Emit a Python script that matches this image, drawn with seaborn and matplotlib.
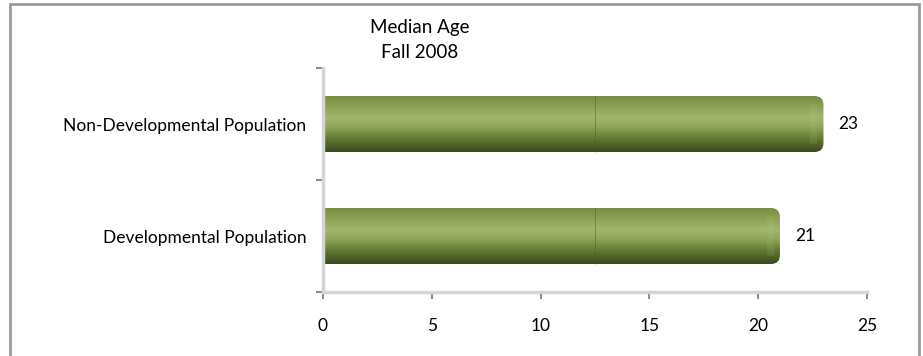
import numpy as np
import pandas as pd
import matplotlib
matplotlib.use("Agg")
import matplotlib.pyplot as plt
from matplotlib.patches import FancyBboxPatch, Rectangle
from matplotlib.colors import LinearSegmentedColormap
import seaborn as sns

# Data
groups = ["Non-Developmental Population", "Developmental Population"]
median_age = [23, 21]
x_ticks = [0, 5, 10, 15, 20, 25]
title_lines = ["Median Age", "Fall 2008"]

df = pd.DataFrame({"group": groups, "age": median_age})

sns.set_theme(style="white")
plt.rcParams["font.family"] = ["Lato", "DejaVu Sans"]

W, H = 923, 356
fig = plt.figure(figsize=(W / 100, H / 100), dpi=100)
ax = fig.add_axes([323 / W, 1 - 292 / H, (867 - 323) / W, (292 - 68) / H])

sns.barplot(data=df, x="age", y="group", orient="h", width=0.5,
            color="#7d9245", ax=ax)

ax.set_xlim(0, 25)
ax.set_ylim(1.5, -0.5)
ax.set_xticks(x_ticks)
ax.set_xticklabels([str(t) for t in x_ticks], fontsize=12.5, color="#000000")
ax.set_yticks([-0.5, 0.5, 1.5], minor=False)
ax.set_yticklabels([])
ax.set_yticks([0, 1], minor=True)
ax.set_yticklabels(groups, minor=True, fontsize=12.5, color="#000000")
ax.tick_params(axis="y", which="minor", length=0, pad=12, left=False)
ax.tick_params(axis="y", which="major", length=5, width=1.5, color="#8c8c8c",
               direction="out", left=True)
ax.tick_params(axis="x", length=5, width=1.5, color="#8c8c8c", direction="out",
               pad=14, bottom=True)
ax.set_xlabel("")
ax.set_ylabel("")
for side in ["top", "right"]:
    ax.spines[side].set_visible(False)
for side in ["left", "bottom"]:
    ax.spines[side].set_color("#d4d4d4")
    ax.spines[side].set_linewidth(2.5)

# Cylinder-style shading for each bar with a rounded right end
shade = LinearSegmentedColormap.from_list(
    "olive_tube",
    [(0.0, "#7a8e42"), (0.12, "#86994c"), (0.38, "#a1b66e"),
     (0.55, "#8fa558"), (0.78, "#5f7530"), (1.0, "#3a4720")])
grad = np.linspace(0, 1, 256).reshape(-1, 1)

x_per_px = 25 / (867 - 323)
y_per_px = 2.0 / (292 - 68)
for patch in list(ax.patches):
    x0, y0 = patch.get_x(), patch.get_y()
    w, h = patch.get_width(), patch.get_height()
    patch.set_visible(False)
    r_px = 9
    tube = FancyBboxPatch((x0 - 1.0, y0), w + 1.0, h,
                          boxstyle=f"round,pad=0,rounding_size={r_px * x_per_px}",
                          mutation_aspect=y_per_px / x_per_px,
                          facecolor="none", edgecolor="none")
    ax.add_patch(tube)
    img = ax.imshow(grad, cmap=shade, aspect="auto",
                    extent=(x0, x0 + w, y0 + h, y0), interpolation="bicubic",
                    zorder=2)
    img.set_clip_path(tube)
    # soft highlight near the rounded end
    hl_cmap = LinearSegmentedColormap.from_list(
        "hl", ["#b9cc86", "#b9cc86"])
    hl = ax.imshow(np.ones((2, 2)), cmap=hl_cmap, alpha=0.12, aspect="auto",
                   extent=(x0 + w - 0.6, x0 + w - 0.3, y0 + h * 0.85,
                           y0 + h * 0.15),
                   zorder=3, interpolation="bilinear")
    hl.set_clip_path(tube)
    ax.vlines(12.5, y0, y0 + h, color="#4a5530", linewidth=0.6,
              alpha=0.55, zorder=4)
    ax.text(x0 + w + 15 * x_per_px, y0 + h / 2, f"{w:g}", va="center",
            ha="left", fontsize=12.5, color="#000000")

ax.set_xlim(0, 25)
ax.set_ylim(1.5, -0.5)

# Title
fig.text(420 / W, 1 - 27 / H, title_lines[0], ha="center", va="center",
         fontsize=13.5, color="#000000")
fig.text(420 / W, 1 - 52 / H, title_lines[1], ha="center", va="center",
         fontsize=13.5, color="#000000")

# Chart-area border
fig.patches.append(Rectangle((10 / W, -0.05), (919 - 10) / W, 1.05 - 4 / H,
                             transform=fig.transFigure, fill=False,
                             edgecolor="#9a9a9a", linewidth=2))

fig.savefig("out.png", dpi=100)
